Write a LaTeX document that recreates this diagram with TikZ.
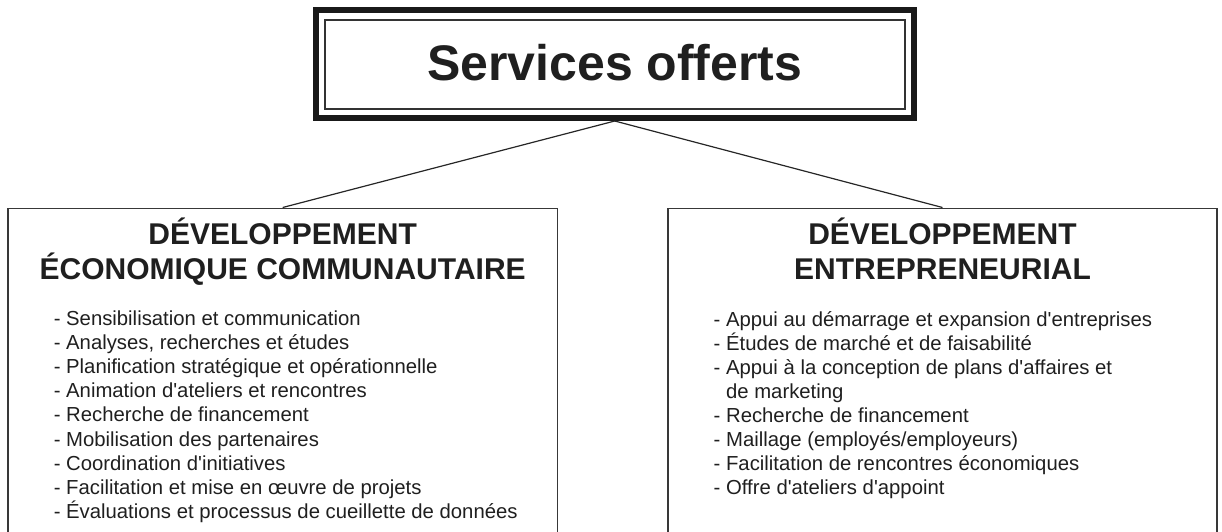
\documentclass[tikz,border=0pt]{standalone}
\usepackage{fontspec}
\newfontfamily\sansf{Liberation Sans}
\begin{document}
\begin{tikzpicture}[x=1pt,y=-1pt,
  framebox/.style={draw=black!78, line width=1.7pt, minimum width=549.5pt, minimum height=400pt, inner sep=0pt, anchor=north},
  head/.style={font=\sansf\bfseries\fontsize{30}{36}\selectfont, text=black!88, anchor=base, inner sep=0pt},
  item/.style={font=\sansf\fontsize{20.3}{24}\selectfont, text=black!88, anchor=base west, inner sep=0pt},
  link/.style={draw=black!85, line width=1.2pt}]
\useasboundingbox (0,0) rectangle (1222,531);
\clip (0,0) rectangle (1222,531);
% top box
\node[draw=black!90, line width=6pt, minimum width=598.5pt, minimum height=108pt, inner sep=0pt] (top) at (614.75,64) {};
\node[draw=black!80, line width=2pt, minimum width=580.2pt, minimum height=89pt, inner sep=0pt,
      font=\sansf\bfseries\fontsize{50}{60}\selectfont, text=black!88, text height=36pt, text depth=4pt] (title) at (614.75,64) {Services offerts};
% category boxes
\node[framebox] (left) at (282.65,207.5) {};
\node[framebox] (right) at (942.5,207.5) {};
\draw[link] (top.south) -- (left.north);
\draw[link] (top.south) -- (right.north);
% headings
\node[head] (lh1) at (282.65,244) {DÉVELOPPEMENT};
\node[head] (lh2) at (282.65,279) {ÉCONOMIQUE COMMUNAUTAIRE};
\node[head] (rh1) at (942.5,244) {DÉVELOPPEMENT};
\node[head] (rh2) at (942.5,279) {ENTREPRENEURIAL};
% left items
\foreach \t [count=\i] in {
  - Sensibilisation et communication,
  {- Analyses, recherches et études},
  - Planification stratégique et opérationnelle,
  - Animation d'ateliers et rencontres,
  - Recherche de financement,
  - Mobilisation des partenaires,
  - Coordination d'initiatives,
  - Facilitation et mise en œuvre de projets,
  - Évaluations et processus de cueillette de données}
  \node[item] (l\i) at (53.6,{325.5+(\i-1)*24.1}) {\t};
% right items
\foreach \t [count=\i] in {
  - Appui au démarrage et expansion d'entreprises,
  - Études de marché et de faisabilité,
  - Appui à la conception de plans d'affaires et,
  \phantom{- }de marketing,
  - Recherche de financement,
  - Maillage (employés/employeurs),
  - Facilitation de rencontres économiques,
  - Offre d'ateliers d'appoint}
  \node[item] (r\i) at (713.5,{326+(\i-1)*24.1}) {\t};
\end{tikzpicture}
\end{document}
